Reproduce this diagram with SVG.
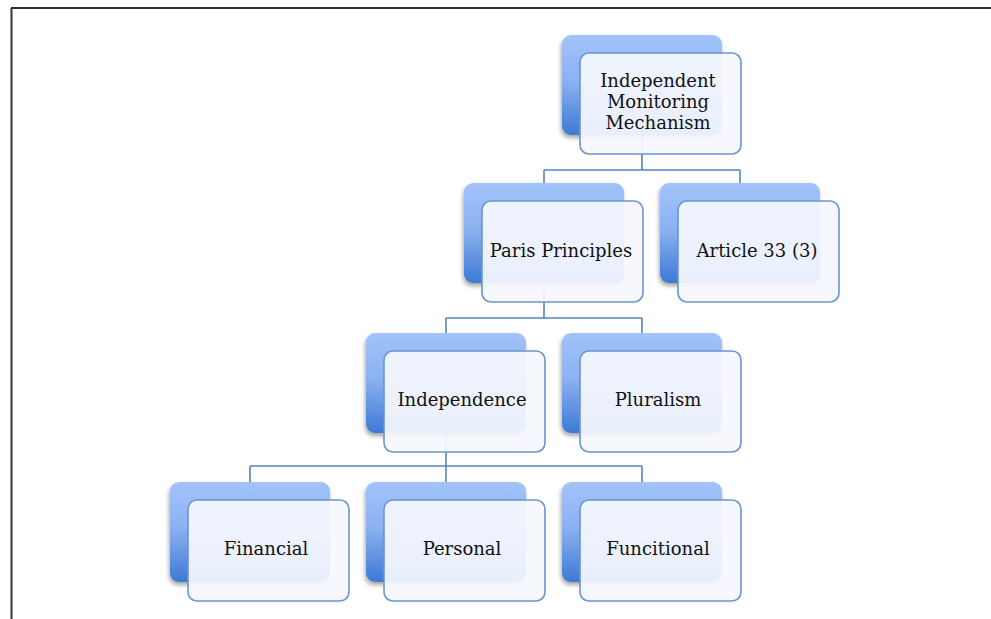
<svg xmlns="http://www.w3.org/2000/svg" width="991" height="619" viewBox="0 0 991 619">
<style>
.back{fill:url(#bg);filter:url(#sh)}
.front{fill:#f5f8fe;fill-opacity:0.93;stroke:#6b95cc;stroke-width:1.6}
.lbl{font-family:"DejaVu Serif",serif;font-size:18px;fill:#111;text-anchor:middle}
.con{fill:none;stroke:#5584c2;stroke-width:1.6}
</style>
<defs>
<linearGradient id="bg" x1="0" y1="0" x2="0" y2="1">
<stop offset="0" stop-color="#a2c3fb"/>
<stop offset="0.45" stop-color="#8db2f2"/>
<stop offset="1" stop-color="#3d79d4"/>
</linearGradient>
<filter id="sh" x="-20%" y="-20%" width="140%" height="150%">
<feDropShadow dx="-1" dy="3" stdDeviation="2" flood-color="#000" flood-opacity="0.35"/>
</filter>
</defs>
<rect width="991" height="619" fill="#fff"/>
<path d="M11 8 H991 M11.5 8 V619" stroke="#333" stroke-width="2" fill="none"/>
<g id="connectors">
<path class="con" d="M642 135 V170 M544 170 H740 M544 170 V183 M740 170 V183"/>
<path class="con" d="M544 283 V318 M446 318 H642 M446 318 V333 M642 318 V333"/>
<path class="con" d="M446 433 V466 M250 466 H642 M250 466 V482 M446 466 V482 M642 466 V482"/>
</g>
<g id="n-imm">
<rect class="back" x="562" y="35" width="160" height="100" rx="9"/>
<rect class="front" x="580" y="53" width="161" height="101" rx="9"/>
<text class="lbl" x="658" y="87">Independent</text>
<text class="lbl" x="658" y="108">Monitoring</text>
<text class="lbl" x="658" y="129">Mechanism</text>
</g>
<g id="n-paris">
<rect class="back" x="464" y="183" width="160" height="100" rx="9"/>
<rect class="front" x="482" y="201" width="161" height="101" rx="9"/>
<text class="lbl" x="561" y="257">Paris Principles</text>
</g>
<g id="n-art33">
<rect class="back" x="660" y="183" width="160" height="100" rx="9"/>
<rect class="front" x="678" y="201" width="161" height="101" rx="9"/>
<text class="lbl" x="757" y="257">Article 33 (3)</text>
</g>
<g id="n-indep">
<rect class="back" x="366" y="333" width="160" height="100" rx="9"/>
<rect class="front" x="384" y="351" width="161" height="101" rx="9"/>
<text class="lbl" x="462" y="406">Independence</text>
</g>
<g id="n-plural">
<rect class="back" x="562" y="333" width="160" height="100" rx="9"/>
<rect class="front" x="580" y="351" width="161" height="101" rx="9"/>
<text class="lbl" x="658" y="406">Pluralism</text>
</g>
<g id="n-fin">
<rect class="back" x="170" y="482" width="160" height="100" rx="9"/>
<rect class="front" x="188" y="500" width="161" height="101" rx="9"/>
<text class="lbl" x="266" y="555">Financial</text>
</g>
<g id="n-pers">
<rect class="back" x="366" y="482" width="160" height="100" rx="9"/>
<rect class="front" x="384" y="500" width="161" height="101" rx="9"/>
<text class="lbl" x="462" y="555">Personal</text>
</g>
<g id="n-func">
<rect class="back" x="562" y="482" width="160" height="100" rx="9"/>
<rect class="front" x="580" y="500" width="161" height="101" rx="9"/>
<text class="lbl" x="658" y="555">Funcitional</text>
</g>
</svg>
